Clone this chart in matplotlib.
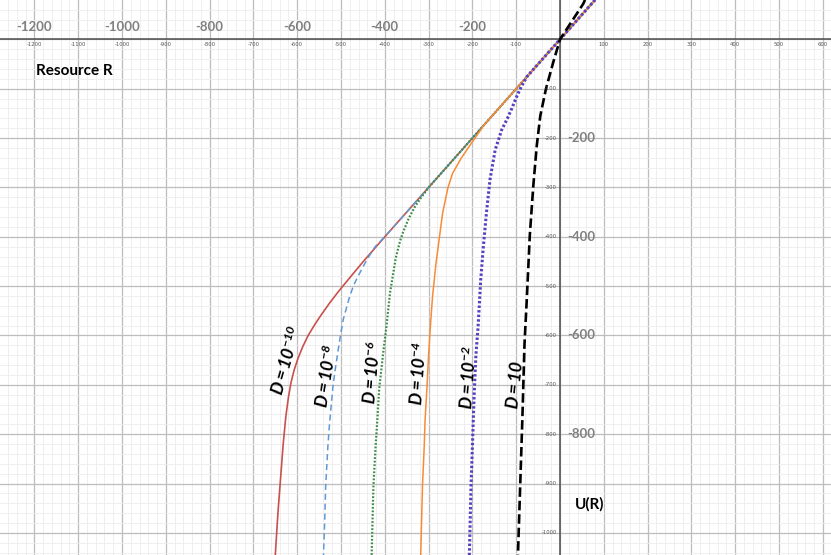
import matplotlib.pyplot as plt
from matplotlib.ticker import MultipleLocator

# curve points: resource R and utility U(R), one pair per D
r_m10 = [80, 0, -200, -400, -450, -480, -505, -525, -545, -560, -575, -587, -598, -607, -614, -620, -626, -632, -638, -644, -650]
u_m10 = [80, 0, -200, -400, -451, -483, -510, -533, -558, -578, -600, -622, -646, -670, -695, -725, -765, -820, -890, -960, -1045]

r_m8 = [80, 0, -400, -422, -440, -457, -470, -480, -495, -504, -512, -518, -526, -530, -535, -537, -540]
u_m8 = [80, 0, -400, -420, -445, -473, -496, -520, -568, -615, -662, -700, -777, -825, -906, -970, -1045]

r_m6 = [80, 0, -300, -315, -330, -345, -358, -365, -375, -388, -397, -403, -408, -413, -417, -421, -426, -430]
u_m6 = [80, 0, -300, -318, -337, -362, -390, -408, -443, -513, -588, -630, -670, -710, -771, -825, -906, -1045]

r_m4 = [80, 0, -175, -183, -202, -225, -245, -256, -268, -275, -283, -291, -296, -300, -304, -308, -310, -314, -318]
u_m4 = [80, 0, -175, -186, -210, -240, -271, -301, -352, -399, -453, -521, -582, -640, -710, -771, -825, -906, -1045]

r_m2 = [80, 0, -75, -88, -100, -110, -120, -133, -148, -160, -168, -175, -181, -187, -192, -196, -199, -203, -207]
u_m2 = [80, 0, -75, -95, -118, -140, -160, -183, -224, -285, -352, -420, -487, -582, -640, -720, -800, -900, -1045]

r_p1 = [57, 53, 0, -15, -32, -45, -53, -61, -69, -76, -81, -86, -90, -96]
u_p1 = [80, 72, 0, -45, -100, -155, -215, -297, -398, -530, -616, -771, -880, -1045]

curve_labels = [r'$D = 10^{-10}$', r'$D = 10^{-8}$', r'$D = 10^{-6}$',
                r'$D = 10^{-4}$', r'$D = 10^{-2}$', r'$D = 10$']

x_ticks = [v for v in range(-1200, 700, 100) if v != 0]
y_ticks = list(range(-100, -1100, -100))
x_big = [-1200, -1000, -800, -600, -400, -200]
y_big = [-200, -400, -600, -800]

plt.rcParams['mathtext.fontset'] = 'custom'
plt.rcParams['mathtext.rm'] = 'Lato:bold:italic'
plt.rcParams['mathtext.it'] = 'Lato:bold:italic'
plt.rcParams['mathtext.bf'] = 'Lato:bold:italic'

fig = plt.figure(figsize=(8.31, 5.55), dpi=100)
ax = fig.add_axes([0, 0, 1, 1])
ax.set_xlim(-1278.5, 618.7)
ax.set_ylim(-1044.8, 79.8)

# grid like the graphing calculator: major every 100, minor every 20
ax.xaxis.set_major_locator(MultipleLocator(100))
ax.yaxis.set_major_locator(MultipleLocator(100))
ax.xaxis.set_minor_locator(MultipleLocator(20))
ax.yaxis.set_minor_locator(MultipleLocator(20))
ax.grid(which='major', color='#bdbdbd', lw=0.9)
ax.grid(which='minor', color='#ededed', lw=0.6)
ax.set_axisbelow(True)
ax.tick_params(which='both', length=0, labelbottom=False, labelleft=False)
for s in ax.spines.values():
    s.set_visible(False)
ax.axhline(0, color='#4d4d4d', lw=1.1, zorder=1)
ax.axvline(0, color='#4d4d4d', lw=1.1, zorder=1)

# the six curves
ax.plot(r_m10, u_m10, color='#c9504c', lw=1.2)
ax.plot(r_m8, u_m8, color='#5f98d6', lw=1.1, dashes=(4, 2.5))
ax.plot(r_m6, u_m6, color='#3a8d45', lw=1.6, dashes=(0.8, 0.8))
ax.plot(r_m4, u_m4, color='#f98a36', lw=1.1)
ax.plot(r_m2, u_m2, color='#5b3fc2', lw=2.2, dashes=(0.8, 0.7))
ax.plot(r_p1, u_p1, color='black', lw=1.9, dashes=(3.6, 1.5))

# small tick labels next to the axes
for v in x_ticks:
    ax.text(v, -11, str(v), ha='center', va='center', fontsize=3.8, color='#555555')
for v in y_ticks:
    ax.text(-7, v, str(v), ha='right', va='center', fontsize=3.8, color='#555555')

# large grey labels
for v in x_big:
    ax.text(v, 25, str(v), ha='center', va='center', fontsize=9.5,
            color='#808080', family='Lato', weight='bold')
for v in y_big:
    ax.text(16, v, str(v), ha='left', va='center', fontsize=9.5,
            color='#808080', family='Lato', weight='bold')

ax.text(-1196, -64, 'Resource R', ha='left', va='center', fontsize=11,
        family='Lato', weight='bold')
ax.text(34, -943, 'U(R)', ha='left', va='center', fontsize=11,
        family='Lato', weight='bold')

# curve labels, rotated along the curves
label_pos = [(-622, -652, 74), (-531, -682, 81), (-426, -676, 85),
             (-321, -678, 86), (-207, -686, 86), (-101, -700, 84)]
for txt, (x, y, rot) in zip(curve_labels, label_pos):
    ax.text(x, y, txt, ha='center', va='center', rotation=rot,
            rotation_mode='anchor', fontsize=12.5)

fig.savefig('out.png', dpi=100)
